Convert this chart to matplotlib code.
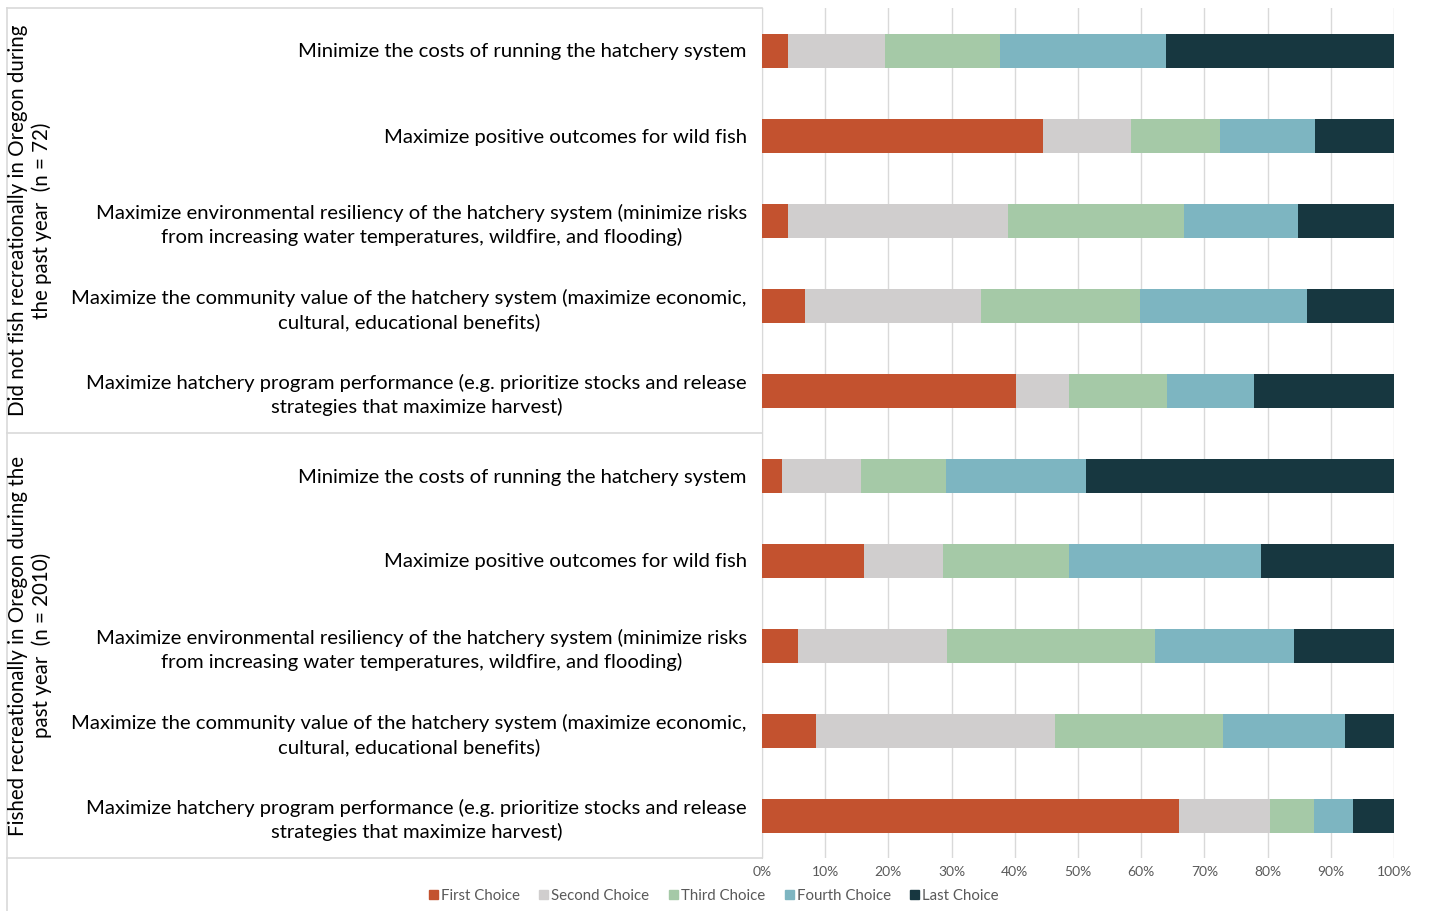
import numpy as np
import matplotlib
matplotlib.use('Agg')
import matplotlib.pyplot as plt
from matplotlib.patches import Patch

plt.rcParams['font.family'] = ['Lato', 'DejaVu Sans']

# 데이터: 각 문항별 선택 비율 (%)
labels = [
    'Minimize the costs of running the hatchery system',
    'Maximize positive outcomes for wild fish',
    'Maximize environmental resiliency of the hatchery system (minimize risks\nfrom increasing water temperatures, wildfire, and flooding)',
    'Maximize the community value of the hatchery system (maximize economic,\ncultural, educational benefits)',
    'Maximize hatchery program performance (e.g. prioritize stocks and release\nstrategies that maximize harvest)',
] * 2

groups = [
    'Did not fish recreationally in Oregon during\nthe past year  (n = 72)',
    'Fished recreationally in Oregon during the\npast year  (n = 2010)',
]

series = ['First Choice', 'Second Choice', 'Third Choice', 'Fourth Choice', 'Last Choice']
colors = ['#C3522F', '#D0CECE', '#A5C9A7', '#7DB5C1', '#173740']

first = [4.1, 44.4, 4.1, 6.8, 40.2, 3.2, 16.2, 5.7, 8.5, 66.0]
second = [15.3, 14.0, 34.9, 27.8, 8.4, 12.4, 12.4, 23.5, 37.8, 14.4]
third = [18.2, 14.0, 27.7, 25.2, 15.5, 13.5, 19.9, 33.0, 26.6, 6.9]
fourth = [26.4, 15.1, 18.1, 26.4, 13.7, 22.1, 30.4, 21.9, 19.3, 6.2]
last = [36.0, 12.5, 15.2, 13.8, 22.2, 48.8, 21.1, 15.9, 7.8, 6.5]

W, H = 1431, 911
fig = plt.figure(figsize=(W / 100, H / 100), dpi=100)
ax = fig.add_axes([762 / W, 1 - 858 / H, (1394 - 762) / W, 850 / H])

y = np.arange(len(labels))
left = np.zeros(len(labels))
for name, vals, c in zip(series, [first, second, third, fourth, last], colors):
    vals = np.array(vals) / 100
    ax.barh(y, vals, left=left, height=0.4, color=c, label=name, zorder=3)
    left += vals

ax.set_xlim(0, 1)
ax.set_ylim(len(labels) - 0.5, -0.5)
ax.set_xticks(np.linspace(0, 1, 11))
ax.set_xticklabels([f'{i}%' for i in range(0, 101, 10)], fontsize=10, color='#595959')
ax.tick_params(axis='x', length=0, pad=6)
ax.xaxis.grid(True, color='#D9D9D9', lw=1, zorder=0)

ax.set_yticks(y)
ax.set_yticklabels(labels, fontsize=14.6, color='black')
for t in ax.get_yticklabels():
    t.set_multialignment('center')
    t.set_linespacing(1.4)
ax.tick_params(axis='y', length=0, pad=11)

for s in ['top', 'right', 'bottom']:
    ax.spines[s].set_visible(False)
ax.spines['left'].set_color('#D9D9D9')

# 왼쪽 그룹 표 테두리
x0 = (7 - 762) / (1394 - 762)
line_kw = dict(color='#D9D9D9', lw=1.2, clip_on=False, transform=ax.transAxes)
for yy in [0, 0.5, 1]:
    ax.plot([x0, 0], [yy, yy], **line_kw)
ax.plot([x0, x0], [1, -(H - 858) / 850], **line_kw)

# 그룹 라벨
xg = (30 - 762) / (1394 - 762)
for i, g in enumerate(groups):
    ax.text(xg, 0.75 - 0.5 * i, g, transform=ax.transAxes, rotation=90,
            ha='center', va='center', multialignment='center', fontsize=14.8)

handles = [Patch(color=c, label=n) for n, c in zip(series, colors)]
leg = fig.legend(handles=handles, loc='center', bbox_to_anchor=(714 / W, 1 - 896 / H),
                 ncol=5, frameon=False, fontsize=10.8, handlelength=0.6, handleheight=0.6,
                 handletextpad=0.2, columnspacing=1.3)
for t in leg.get_texts():
    t.set_color('#595959')

fig.savefig('out.png', dpi=100)
